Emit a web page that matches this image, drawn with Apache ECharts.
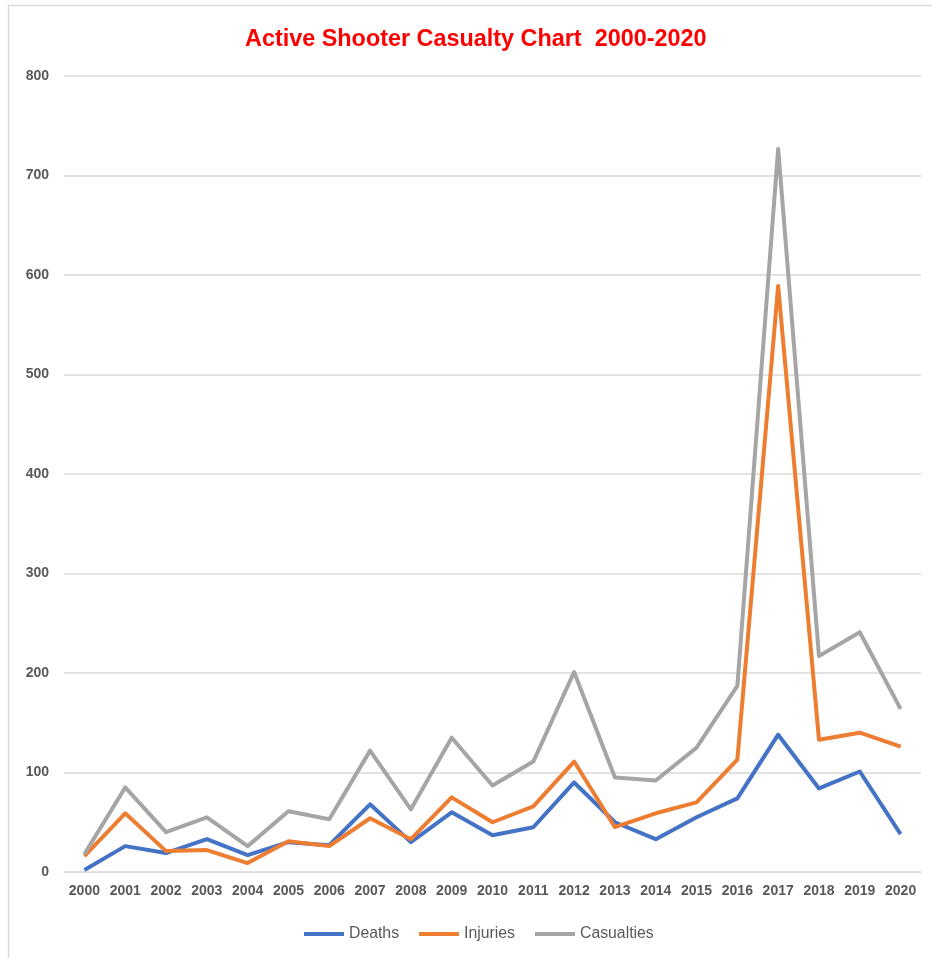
<!DOCTYPE html>
<html>
<head>
<meta charset="utf-8">
<style>
  html, body { margin: 0; padding: 0; background: #ffffff; }
  #chart { width: 932px; height: 958px; }
</style>
<script src="https://cdn.jsdelivr.net/npm/echarts@6/dist/echarts.min.js"></script>
</head>
<body>
<div id="chart"></div>
<script>
// Yearly active shooter incident totals
const years = ['2000','2001','2002','2003','2004','2005','2006','2007','2008','2009','2010',
               '2011','2012','2013','2014','2015','2016','2017','2018','2019','2020'];
const deaths     = [2, 26, 19, 33, 17, 30, 27, 68, 30, 60, 37, 45, 90, 50, 33, 55, 74, 138, 84, 101, 38];
const injuries   = [16, 59, 21, 22, 9, 31, 26, 54, 33, 75, 50, 66, 111, 45, 59, 70, 113, 589, 133, 140, 126];
const casualties = [18, 85, 40, 55, 26, 61, 53, 122, 63, 135, 87, 111, 201, 95, 92, 125, 187, 727, 217, 241, 164];
const yTicks = { min: 0, max: 800, interval: 100 };

const FONT = '"Liberation Sans", Arial, sans-serif';
const TEXT = '#595959';

const chart = echarts.init(document.getElementById('chart'), null, { renderer: 'canvas' });

function lineSeries(name, data, color) {
  return {
    name: name,
    type: 'line',
    data: data,
    symbol: 'none',
    lineStyle: { color: color, width: 4, join: 'round' },
    itemStyle: { color: color },
    z: 3
  };
}

chart.setOption({
  animation: false,
  backgroundColor: '#ffffff',
  title: {
    text: 'Active Shooter Casualty Chart  2000-2020',
    left: 240,
    top: 23,
    textStyle: { color: '#ff0000', fontFamily: FONT, fontWeight: 'bold', fontSize: 23.4 }
  },
  legend: {
    bottom: 11,
    left: 299,
    itemWidth: 40,
    itemHeight: 4,
    itemGap: 20,
    icon: 'rect',
    textStyle: { color: TEXT, fontFamily: FONT, fontSize: 15.8 },
    data: ['Deaths', 'Injuries', 'Casualties']
  },
  grid: { left: 64, right: 11, top: 76, bottom: 86, containLabel: false },
  xAxis: {
    type: 'category',
    data: years,
    boundaryGap: true,
    axisLine: { show: true, lineStyle: { color: '#d9d9d9', width: 1 } },
    axisTick: { show: false },
    axisLabel: { color: TEXT, fontFamily: FONT, fontWeight: 'bold', fontSize: 14, margin: 12, interval: 0 }
  },
  yAxis: {
    type: 'value',
    min: yTicks.min,
    max: yTicks.max,
    interval: yTicks.interval,
    axisLine: { show: false },
    axisTick: { show: false },
    splitLine: { lineStyle: { color: '#d9d9d9', width: 1.5 } },
    axisLabel: { color: TEXT, fontFamily: FONT, fontWeight: 'bold', fontSize: 14, margin: 15 }
  },
  series: [
    lineSeries('Deaths', deaths, '#4472c4'),
    lineSeries('Injuries', injuries, '#ed7d31'),
    lineSeries('Casualties', casualties, '#a5a5a5')
  ],
  graphic: [
    // chart area frame (top and left edges)
    { type: 'line', shape: { x1: 8, y1: 5.5, x2: 932, y2: 5.5 }, style: { stroke: '#d9d9d9', lineWidth: 1.5 }, silent: true },
    { type: 'line', shape: { x1: 8.5, y1: 5, x2: 8.5, y2: 958 }, style: { stroke: '#d9d9d9', lineWidth: 1.5 }, silent: true }
  ]
});
</script>
</body>
</html>
